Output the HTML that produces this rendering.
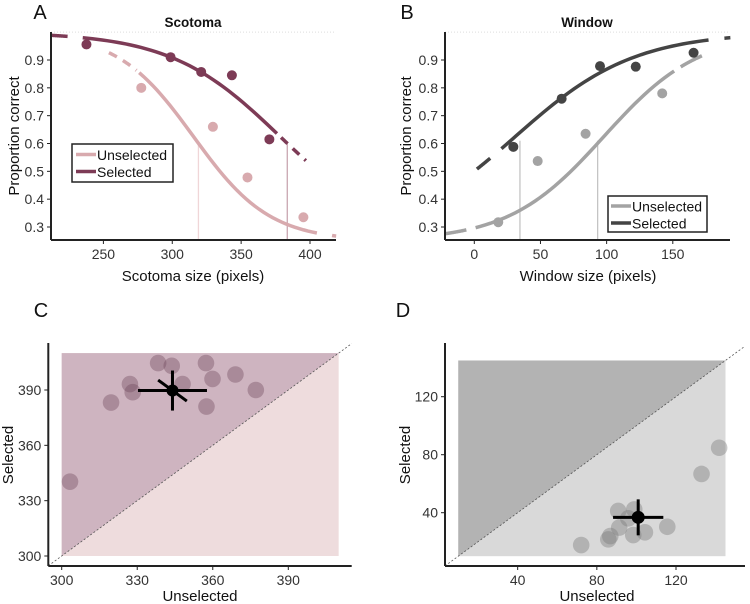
<!DOCTYPE html>
<html><head><meta charset="utf-8">
<style>
html,body{margin:0;padding:0;background:#fff;}
svg{display:block;font-family:"Liberation Sans",Arial,sans-serif;}
</style></head>
<body>
<svg id="fig" width="750" height="604" viewBox="0 0 750 604" xmlns="http://www.w3.org/2000/svg"></svg>
<script>
// ---- Data ----
const aSelX = [237.7, 298.8, 321, 343.3, 370.5];
const aSelY = [0.956, 0.91, 0.857, 0.845, 0.615];
const aUnsX = [277.5, 329.5, 354.6, 395.2];
const aUnsY = [0.80, 0.66, 0.478, 0.335];
const aThresholds = [319, 383.5];
const aFitUns = [315.4, 27.7];   // midpoint, slope
const aFitSel = [378.3, 39.8];
const aXTicks = [250, 300, 350, 400];
const pcYTicks = [0.3, 0.4, 0.5, 0.6, 0.7, 0.8, 0.9];

const bSelX = [29.5, 66, 95, 122, 165.7];
const bSelY = [0.588, 0.761, 0.878, 0.876, 0.926];
const bUnsX = [18.1, 47.9, 84.1, 142];
const bUnsY = [0.317, 0.537, 0.635, 0.78];
const bThresholds = [34.5, 93.2];
const bFitSel = [31, 45];
const bFitUns = [97.9, 36];
const bXTicks = [0, 50, 100, 150];

const cX = [303.3, 319.6, 327.1, 328.2, 338.3, 343.7, 348, 357.3, 357.5, 359.9, 369, 377.1];
const cY = [340.3, 383.2, 393.2, 388.8, 404.6, 403.1, 393.2, 404.6, 381, 396, 398.4, 390];
const cMean = [344, 389.7];
const cErr = [13.7, 10.85, 5.7];
const cXTicks = [300, 330, 360, 390];
const cYTicks = [300, 330, 360, 390];

const dX = [72.1, 85.8, 86.8, 90.8, 91.3, 95.9, 98.4, 98.9, 104.3, 115.6, 132.9, 141.8];
const dY = [17.7, 21.6, 23.9, 41.2, 29.7, 36.1, 24.6, 42.3, 26.5, 30.3, 66.7, 84.8];
const dMean = [100.9, 36.8];
const dErr = [12.7, 12.4];
const dXTicks = [40, 80, 120];
const dYTicks = [40, 80, 120];

// ---- helpers ----
const NS = "http://www.w3.org/2000/svg";
const svg = document.getElementById('fig');
function mk(tag, attrs, parent, text){
  const e = document.createElementNS(NS, tag);
  for (const k in attrs) e.setAttribute(k, attrs[k]);
  if (text !== undefined) e.textContent = text;
  (parent || svg).appendChild(e);
  return e;
}
function lin(d0, d1, r0, r1){ return v => r0 + (v - d0) * (r1 - r0) / (d1 - d0); }
function logisticDown(x, p){ return 0.25 + 0.75 / (1 + Math.exp((x - p[0]) / p[1])); }
function logisticUp(x, p){ return 0.25 + 0.75 / (1 + Math.exp(-(x - p[0]) / p[1])); }
function curvePath(f, p, x0, x1, sx, sy){
  let d = "";
  const n = 40;
  for (let i = 0; i <= n; i++){
    const x = x0 + (x1 - x0) * i / n;
    d += (i ? "L" : "M") + sx(x).toFixed(2) + "," + sy(f(x, p)).toFixed(2);
  }
  return d;
}
function axes(g, left, right, top, bottom){
  mk('line', {x1:left, y1:top, x2:left, y2:bottom, stroke:'#222', 'stroke-width':2}, g);
  mk('line', {x1:left, y1:bottom, x2:right, y2:bottom, stroke:'#222', 'stroke-width':2}, g);
}
function xTicks(g, ticks, sx, bottom, fmt){
  ticks.forEach(t => {
    mk('line', {x1:sx(t), y1:bottom, x2:sx(t), y2:bottom+4, stroke:'#222', 'stroke-width':1}, g);
    const tx = mk('text', {x:sx(t), y:bottom+19, 'text-anchor':'middle', 'font-size':14, fill:'#333'}, g, fmt ? fmt(t) : String(t));
    
    
  });
}
function yTicks(g, ticks, sy, left, fmt){
  ticks.forEach(t => {
    mk('line', {x1:left-4, y1:sy(t), x2:left, y2:sy(t), stroke:'#222', 'stroke-width':1}, g);
    const tx = mk('text', {x:left-7, y:sy(t)+5, 'text-anchor':'end', 'font-size':14, fill:'#333'}, g, fmt ? fmt(t) : String(t));
    
    
  });
}
function label(txt, x, y, size, name, extra){
  const a = Object.assign({x:x, y:y, 'font-size':size, fill:'#111', 'text-anchor':'middle'}, extra || {});
  const t = mk('text', a, svg, txt);
  
  
  return t;
}
function group(name){
  const g = mk('g', {});
  
  
  return g;
}
const f1 = v => v.toFixed(1);

// ===== Panel A =====
(function(){
  const g = group('panel-a-scotoma');
  const sx = lin(250, 400, 103.4, 310);
  const sy = lin(0.3, 0.9, 227, 60);
  const L = 51, R = 336, T = 32, B = 240;
  mk('line', {x1:L, y1:sy(1), x2:R, y2:sy(1), stroke:'#ddd', 'stroke-width':1, 'stroke-dasharray':'1,2'}, g);
  const cu = '#d8aaae', cs = '#7d3b56';
  aThresholds.forEach((t, i) => {
    const l = mk('line', {x1:sx(t), y1:B, x2:sx(t), y2:sy(0.6), stroke: i ? '#c9a6b0' : '#f0d6d8', 'stroke-width':1.3}, g);
    
    
  });
  mk('path', {d:curvePath(logisticDown, aFitUns, 254, 274, sx, sy), fill:'none', stroke:cu, 'stroke-width':3.5, 'stroke-dasharray':'9,7'}, g);
  mk('path', {d:curvePath(logisticDown, aFitUns, 276, 405, sx, sy), fill:'none', stroke:cu, 'stroke-width':3.5}, g);
  mk('path', {d:curvePath(logisticDown, aFitUns, 416, 419, sx, sy), fill:'none', stroke:cu, 'stroke-width':3.5}, g);
  mk('path', {d:curvePath(logisticDown, aFitSel, 212.5, 224, sx, sy), fill:'none', stroke:cs, 'stroke-width':3.5}, g);
  mk('path', {d:curvePath(logisticDown, aFitSel, 235, 376, sx, sy), fill:'none', stroke:cs, 'stroke-width':3.5}, g);
  mk('path', {d:curvePath(logisticDown, aFitSel, 379, 397, sx, sy), fill:'none', stroke:cs, 'stroke-width':3.5, 'stroke-dasharray':'9,7'}, g);
  aUnsX.forEach((x, i) => {
    const c = mk('circle', {cx:sx(x), cy:sy(aUnsY[i]), r:5, fill:cu}, g);
    
    
  });
  aSelX.forEach((x, i) => {
    const c = mk('circle', {cx:sx(x), cy:sy(aSelY[i]), r:5, fill:cs}, g);
    
    
  });
  axes(g, L, R, T, B);
  xTicks(g, aXTicks, sx, B);
  yTicks(g, pcYTicks, sy, L, f1);
  const lg = mk('g', {}, g);
  
  
  mk('rect', {x:72, y:144, width:101, height:38, fill:'#fff', stroke:'#222', 'stroke-width':1.5}, lg);
  mk('line', {x1:76, y1:154.5, x2:96, y2:154.5, stroke:cu, 'stroke-width':3.5}, lg);
  mk('text', {x:97, y:160, 'font-size':14, fill:'#111'}, lg, 'Unselected');
  mk('line', {x1:76, y1:171.5, x2:96, y2:171.5, stroke:cs, 'stroke-width':3.5}, lg);
  mk('text', {x:97, y:177, 'font-size':14, fill:'#111'}, lg, 'Selected');
})();
label('A', 40, 19, 20, 'panel-label-a');
label('Scotoma', 193, 27, 13.5, 'title-scotoma', {'font-weight':'bold'});
label('Scotoma size (pixels)', 193, 281, 15, 'x-axis-title-a');
label('Proportion correct', 0, 0, 15, 'y-axis-title-a', {transform:'translate(19,136) rotate(-90)'});

// ===== Panel B =====
(function(){
  const g = group('panel-b-window');
  const sx = lin(0, 150, 474.3, 672.8);
  const sy = lin(0.3, 0.9, 227, 60);
  const L = 445, R = 730, T = 32, B = 240;
  mk('line', {x1:L, y1:sy(1), x2:R, y2:sy(1), stroke:'#ddd', 'stroke-width':1, 'stroke-dasharray':'1,2'}, g);
  const cu = '#a3a3a3', cs = '#444444';
  bThresholds.forEach(t => {
    const l = mk('line', {x1:sx(t), y1:B, x2:sx(t), y2:sy(0.61), stroke:'#c4c4c4', 'stroke-width':1.3}, g);
    
    
  });
  mk('path', {d:curvePath(logisticUp, bFitUns, -21.5, -6, sx, sy), fill:'none', stroke:cu, 'stroke-width':3.5}, g);
  mk('path', {d:curvePath(logisticUp, bFitUns, 1, 151, sx, sy), fill:'none', stroke:cu, 'stroke-width':3.5}, g);
  mk('path', {d:curvePath(logisticUp, bFitUns, 156, 172, sx, sy), fill:'none', stroke:cu, 'stroke-width':3.5}, g);
  mk('path', {d:curvePath(logisticUp, bFitSel, 2, 12, sx, sy), fill:'none', stroke:cs, 'stroke-width':3.5}, g);
  mk('path', {d:curvePath(logisticUp, bFitSel, 20.5, 177, sx, sy), fill:'none', stroke:cs, 'stroke-width':3.5}, g);
  mk('path', {d:curvePath(logisticUp, bFitSel, 189, 193.5, sx, sy), fill:'none', stroke:cs, 'stroke-width':3.5}, g);
  bUnsX.forEach((x, i) => {
    const c = mk('circle', {cx:sx(x), cy:sy(bUnsY[i]), r:5, fill:cu}, g);
    
    
  });
  bSelX.forEach((x, i) => {
    const c = mk('circle', {cx:sx(x), cy:sy(bSelY[i]), r:5, fill:cs}, g);
    
    
  });
  axes(g, L, R, T, B);
  xTicks(g, bXTicks, sx, B);
  yTicks(g, pcYTicks, sy, L, f1);
  const lg = mk('g', {}, g);
  
  
  mk('rect', {x:608, y:196, width:99, height:36, fill:'#fff', stroke:'#222', 'stroke-width':1.5}, lg);
  mk('line', {x1:611, y1:206, x2:631, y2:206, stroke:cu, 'stroke-width':3.5}, lg);
  mk('text', {x:632, y:211.5, 'font-size':14, fill:'#111'}, lg, 'Unselected');
  mk('line', {x1:611, y1:223, x2:631, y2:223, stroke:cs, 'stroke-width':3.5}, lg);
  mk('text', {x:632, y:228.5, 'font-size':14, fill:'#111'}, lg, 'Selected');
})();
label('B', 407, 19, 20, 'panel-label-b');
label('Window', 587, 27, 13.5, 'title-window', {'font-weight':'bold'});
label('Window size (pixels)', 588, 281, 15, 'x-axis-title-b');
label('Proportion correct', 0, 0, 15, 'y-axis-title-b', {transform:'translate(411,136) rotate(-90)'});

// ===== Panel C =====
(function(){
  const g = group('panel-c-scatter');
  const sx = lin(300, 390, 61.7, 288.3);
  const sy = lin(300, 390, 556, 390);
  const L = 48.3, R = 351.7, T = 343, B = 566;
  const lo = 300, hi = 410;
  mk('rect', {x:sx(lo), y:sy(hi), width:sx(hi)-sx(lo), height:sy(lo)-sy(hi), fill:'#eedcdd'}, g);
  mk('polygon', {points:`${sx(lo)},${sy(lo)} ${sx(hi)},${sy(hi)} ${sx(lo)},${sy(hi)}`, fill:'#ceb4c0'}, g);
  mk('line', {x1:L, y1:sy(lo-(sx(lo)-L)/2.52), x2:R, y2:sy(hi+(R-sx(hi))/2.52), stroke:'#555', 'stroke-width':0.8, 'stroke-dasharray':'2,2'}, g);
  cX.forEach((x, i) => {
    const c = mk('circle', {cx:sx(x), cy:sy(cY[i]), r:8.3, fill:'rgba(110,70,90,0.38)'}, g);
    
    
  });
  const mx = cMean[0], my = cMean[1];
  mk('line', {x1:sx(mx-cErr[0]), y1:sy(my), x2:sx(mx+cErr[0]), y2:sy(my), stroke:'#000', 'stroke-width':3}, g);
  mk('line', {x1:sx(mx), y1:sy(my-cErr[1]), x2:sx(mx), y2:sy(my+cErr[1]), stroke:'#000', 'stroke-width':3}, g);
  mk('line', {x1:sx(mx-cErr[2]), y1:sy(my+cErr[2]), x2:sx(mx+cErr[2]), y2:sy(my-cErr[2]), stroke:'#000', 'stroke-width':3}, g);
  const m = mk('circle', {cx:sx(mx), cy:sy(my), r:6, fill:'#000'}, g);
  
  
  axes(g, L, R, T, B);
  xTicks(g, cXTicks, sx, B);
  yTicks(g, cYTicks, sy, L);
})();
label('C', 41, 317, 20, 'panel-label-c');
label('Unselected', 200, 601, 15, 'x-axis-title-c');
label('Selected', 0, 0, 15, 'y-axis-title-c', {transform:'translate(13,455) rotate(-90)'});

// ===== Panel D =====
(function(){
  const g = group('panel-d-scatter');
  const sx = lin(0, 120, 438.5, 676);
  const sy = lin(0, 120, 570.7, 396.7);
  const L = 445, R = 745, T = 343, B = 566;
  const lo = 10, hi = 145;
  mk('rect', {x:sx(lo), y:sy(hi), width:sx(hi)-sx(lo), height:sy(lo)-sy(hi), fill:'#d9d9d9'}, g);
  mk('polygon', {points:`${sx(lo)},${sy(lo)} ${sx(hi)},${sy(hi)} ${sx(lo)},${sy(hi)}`, fill:'#b3b3b3'}, g);
  mk('line', {x1:L, y1:sy(lo-(sx(lo)-L)/1.98), x2:R, y2:sy(hi+(R-sx(hi))/1.98), stroke:'#555', 'stroke-width':0.8, 'stroke-dasharray':'2,2'}, g);
  dX.forEach((x, i) => {
    const c = mk('circle', {cx:sx(x), cy:sy(dY[i]), r:8.3, fill:'rgba(120,120,120,0.4)'}, g);
    
    
  });
  const mx = dMean[0], my = dMean[1];
  mk('line', {x1:sx(mx-dErr[0]), y1:sy(my), x2:sx(mx+dErr[0]), y2:sy(my), stroke:'#000', 'stroke-width':3}, g);
  mk('line', {x1:sx(mx), y1:sy(my-dErr[1]), x2:sx(mx), y2:sy(my+dErr[1]), stroke:'#000', 'stroke-width':3}, g);
  const m = mk('circle', {cx:sx(mx), cy:sy(my), r:6.5, fill:'#000'}, g);
  
  
  axes(g, L, R, T, B);
  xTicks(g, dXTicks, sx, B);
  yTicks(g, dYTicks, sy, L);
})();
label('D', 403, 317, 20, 'panel-label-d');
label('Unselected', 597, 601, 15, 'x-axis-title-d');
label('Selected', 0, 0, 15, 'y-axis-title-d', {transform:'translate(410,455) rotate(-90)'});
</script>
</body></html>
